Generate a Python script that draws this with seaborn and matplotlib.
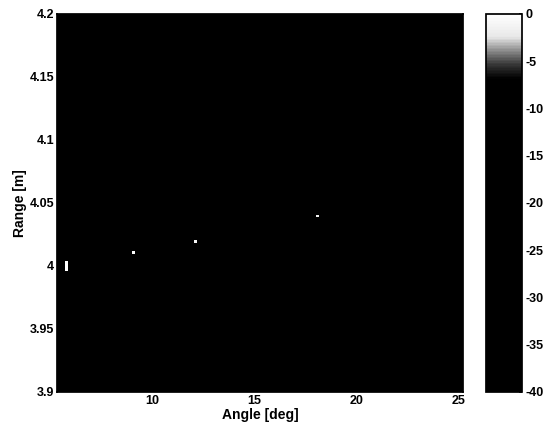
import numpy as np
import matplotlib
matplotlib.use("Agg")
import matplotlib.pyplot as plt
from matplotlib.colors import LinearSegmentedColormap
import seaborn as sns

# Scatterer echoes (angle in deg, range in m, level in dB)
echo_angle = [5.8, 9.1, 12.1, 18.1]
echo_range = [4.000, 4.0105, 4.0195, 4.039]
echo_level = [0.0, -0.5, -1.0, -1.5]
echo_span_m = [0.008, 0.0025, 0.002, 0.0015]

floor_db = -40.0
angle_lim = (5.35, 25.2)
range_lim = (3.9, 4.2)
xticks = [10, 15, 20, 25]
yticks = [3.9, 3.95, 4.0, 4.05, 4.1, 4.15, 4.2]
ytick_labels = ["3.9", "3.95", "4", "4.05", "4.1", "4.15", "4.2"]
cbar_ticks = [0, -5, -10, -15, -20, -25, -30, -35, -40]

sns.set_theme(style="white")
plt.rcParams["font.family"] = ["Liberation Sans", "DejaVu Sans"]
plt.rcParams["font.weight"] = "bold"
plt.rcParams["axes.unicode_minus"] = False
plt.rcParams["text.color"] = "black"
plt.rcParams["axes.labelcolor"] = "black"
plt.rcParams["xtick.color"] = "black"
plt.rcParams["ytick.color"] = "black"

# Image grid
angles = np.linspace(angle_lim[0], angle_lim[1], 400)
ranges = np.linspace(range_lim[0], range_lim[1], 600)
img = np.full((ranges.size, angles.size), floor_db)
for a, r, lv, sp in zip(echo_angle, echo_range, echo_level, echo_span_m):
    ia = np.argmin(np.abs(angles - a))
    rows = np.where(np.abs(ranges - r) <= sp / 2 + 1e-9)[0]
    if rows.size == 0:
        rows = [np.argmin(np.abs(ranges - r))]
    for c in (ia - 1, ia, ia + 1):
        img[rows, c] = lv

cmap = LinearSegmentedColormap.from_list(
    "echo_gray",
    [(0.0, "black"), (0.83, "black"), (0.87, "#3a3a3a"), (0.91, "#9a9a9a"),
     (0.94, "#e8e8e8"), (1.0, "white")],
)

fig = plt.figure(figsize=(5.48, 4.32), dpi=100)
ax = fig.add_axes([0.104, 0.093, 0.741, 0.875])
cax = fig.add_axes([0.887, 0.093, 0.066, 0.875])

mesh = ax.pcolormesh(angles, ranges, img, cmap=cmap, vmin=-40, vmax=0, shading="auto")
ax.set_xlim(*angle_lim)
ax.set_ylim(*range_lim)
ax.set_xticks(xticks)
ax.set_yticks(yticks)
ax.set_yticklabels(ytick_labels)
ax.tick_params(direction="in", length=3, labelsize=9, pad=2)
for lbl in ax.get_xticklabels() + ax.get_yticklabels():
    lbl.set_fontweight("bold")
ax.set_xlabel("Angle [deg]", fontsize=10, fontweight="bold", labelpad=1)
ax.set_ylabel("Range [m]", fontsize=10, fontweight="bold", labelpad=2)
for s in ax.spines.values():
    s.set_color("black")

cb = fig.colorbar(mesh, cax=cax, ticks=cbar_ticks)
cb.ax.tick_params(direction="in", length=2, labelsize=9, pad=2)
cb.ax.set_yticklabels([str(t) for t in cbar_ticks])
for lbl in cb.ax.get_yticklabels():
    lbl.set_fontweight("bold")
cb.outline.set_edgecolor("black")

fig.savefig("out.png", dpi=100, facecolor="white")
